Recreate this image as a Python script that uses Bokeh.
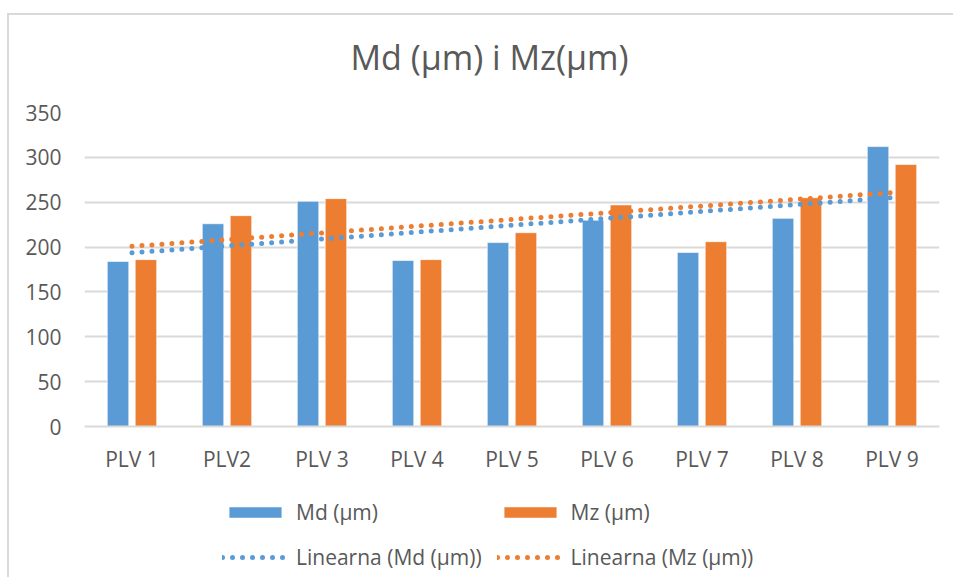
import numpy as np
from bokeh.plotting import figure
from bokeh.layouts import column
from bokeh.models import ColumnDataSource, FactorRange, Legend, LegendItem, Range1d
from bokeh.transform import dodge
from bokeh.embed import file_html
from bokeh.resources import INLINE

categories = ["PLV 1", "PLV2", "PLV 3", "PLV 4", "PLV 5", "PLV 6", "PLV 7", "PLV 8", "PLV 9"]
md_values = [184, 226, 251, 185, 205, 230, 194, 232, 312]
mz_values = [186, 235, 254, 186, 216, 247, 206, 255, 292]
y_ticks = [0, 50, 100, 150, 200, 250, 300, 350]
title_text = "Md (µm) i Mz(µm)"
legend_labels = ["Md (µm)", "Mz (µm)", "Linearna (Md (µm))", "Linearna (Mz (µm))"]

BLUE = "#5B9BD5"
ORANGE = "#ED7D31"
TEXT = "#595959"
GRID = "#d9d9d9"
FONT = "Open Sans"

# linear trendlines (least squares, like Excel "Linear")
xi = np.arange(1, len(categories) + 1)
md_fit = np.polyval(np.polyfit(xi, md_values, 1), xi)
mz_fit = np.polyval(np.polyfit(xi, mz_values, 1), xi)

src = ColumnDataSource(dict(cat=categories, md=md_values, mz=mz_values,
                            md_fit=md_fit, mz_fit=mz_fit))

W = 944


def blank_strip(height):
    f = figure(width=W, height=height, output_backend="svg", toolbar_location=None,
               min_border=0, x_range=Range1d(0, 1), y_range=Range1d(0, 1))
    f.outline_line_color = None
    f.axis.visible = False
    f.grid.visible = False
    return f


# title strip
ts = blank_strip(83)
ts.title.text = title_text
ts.title.text_font = FONT
ts.title.text_font_size = "34px"
ts.title.text_font_style = "normal"
ts.title.text_color = TEXT
ts.title.align = "left"
ts.title.offset = 266
ts.title.standoff = 32

# main chart
p = figure(x_range=FactorRange(*categories, range_padding=0.0), y_range=Range1d(0, 350),
           width=W, height=379, output_backend="svg", toolbar_location=None,
           min_border_left=75, min_border_right=14, min_border_top=14, min_border_bottom=51)
p.outline_line_color = None

bw = 0.226
bar_style = dict(line_color="white", line_width=1, line_alpha=0.6)
dot_style = dict(line_width=5, line_dash="0 10", line_cap="round")
p.vbar(x=dodge("cat", -0.147, range=p.x_range), top="md", width=bw, source=src,
       fill_color=BLUE, **bar_style)
p.vbar(x=dodge("cat", 0.147, range=p.x_range), top="mz", width=bw, source=src,
       fill_color=ORANGE, **bar_style)
p.line(x="cat", y="md_fit", source=src, line_color=BLUE, **dot_style)
p.line(x="cat", y="mz_fit", source=src, line_color=ORANGE, **dot_style)

p.yaxis.ticker = y_ticks
p.yaxis.axis_line_color = None
p.yaxis.major_tick_line_color = None
p.yaxis.minor_tick_line_color = None
p.yaxis.major_label_standoff = 17
p.xaxis.axis_line_color = GRID
p.xaxis.axis_line_width = 2
p.xaxis.major_tick_line_color = None
p.xaxis.major_tick_out = 0
p.xaxis.major_label_standoff = 18
for ax in (p.xaxis, p.yaxis):
    ax.major_label_text_font = FONT
    ax.major_label_text_font_size = "21px"
    ax.major_label_text_color = TEXT

p.xgrid.grid_line_color = None
p.ygrid.grid_line_color = GRID
p.ygrid.grid_line_width = 2

# legend strip below the chart (legend key samples kept outside the visible range)
lg = blank_strip(100)
key_src = ColumnDataSource(dict(x=[-5], y=[-5]))
s_md = lg.vbar(x="x", top="y", width=0.1, source=key_src, fill_color=BLUE, **bar_style)
s_mz = lg.vbar(x="x", top="y", width=0.1, source=key_src, fill_color=ORANGE, **bar_style)
s_lmd = lg.line(x="x", y="y", source=key_src, line_color=BLUE, **dot_style)
s_lmz = lg.line(x="x", y="y", source=key_src, line_color=ORANGE, **dot_style)

legend = Legend(items=[LegendItem(label=lab, renderers=[r]) for lab, r in
                       zip(legend_labels, [s_md, s_mz, s_lmd, s_lmz])],
                orientation="horizontal", ncols=2, location=(138, 5),
                glyph_width=66, glyph_height=14, label_standoff=8, spacing=15,
                label_height=30,
                label_text_font=FONT, label_text_font_size="21px", label_text_color=TEXT,
                border_line_color=None, background_fill_alpha=0, margin=0, padding=0)
lg.add_layout(legend)

layout = column(ts, p, lg, spacing=0,
                styles={"border-left": "2px solid #d9d9d9", "border-top": "2px solid #d9d9d9",
                        "margin-left": "7px", "margin-top": "13px"})

open("out.html", "w").write(file_html(layout, INLINE))
